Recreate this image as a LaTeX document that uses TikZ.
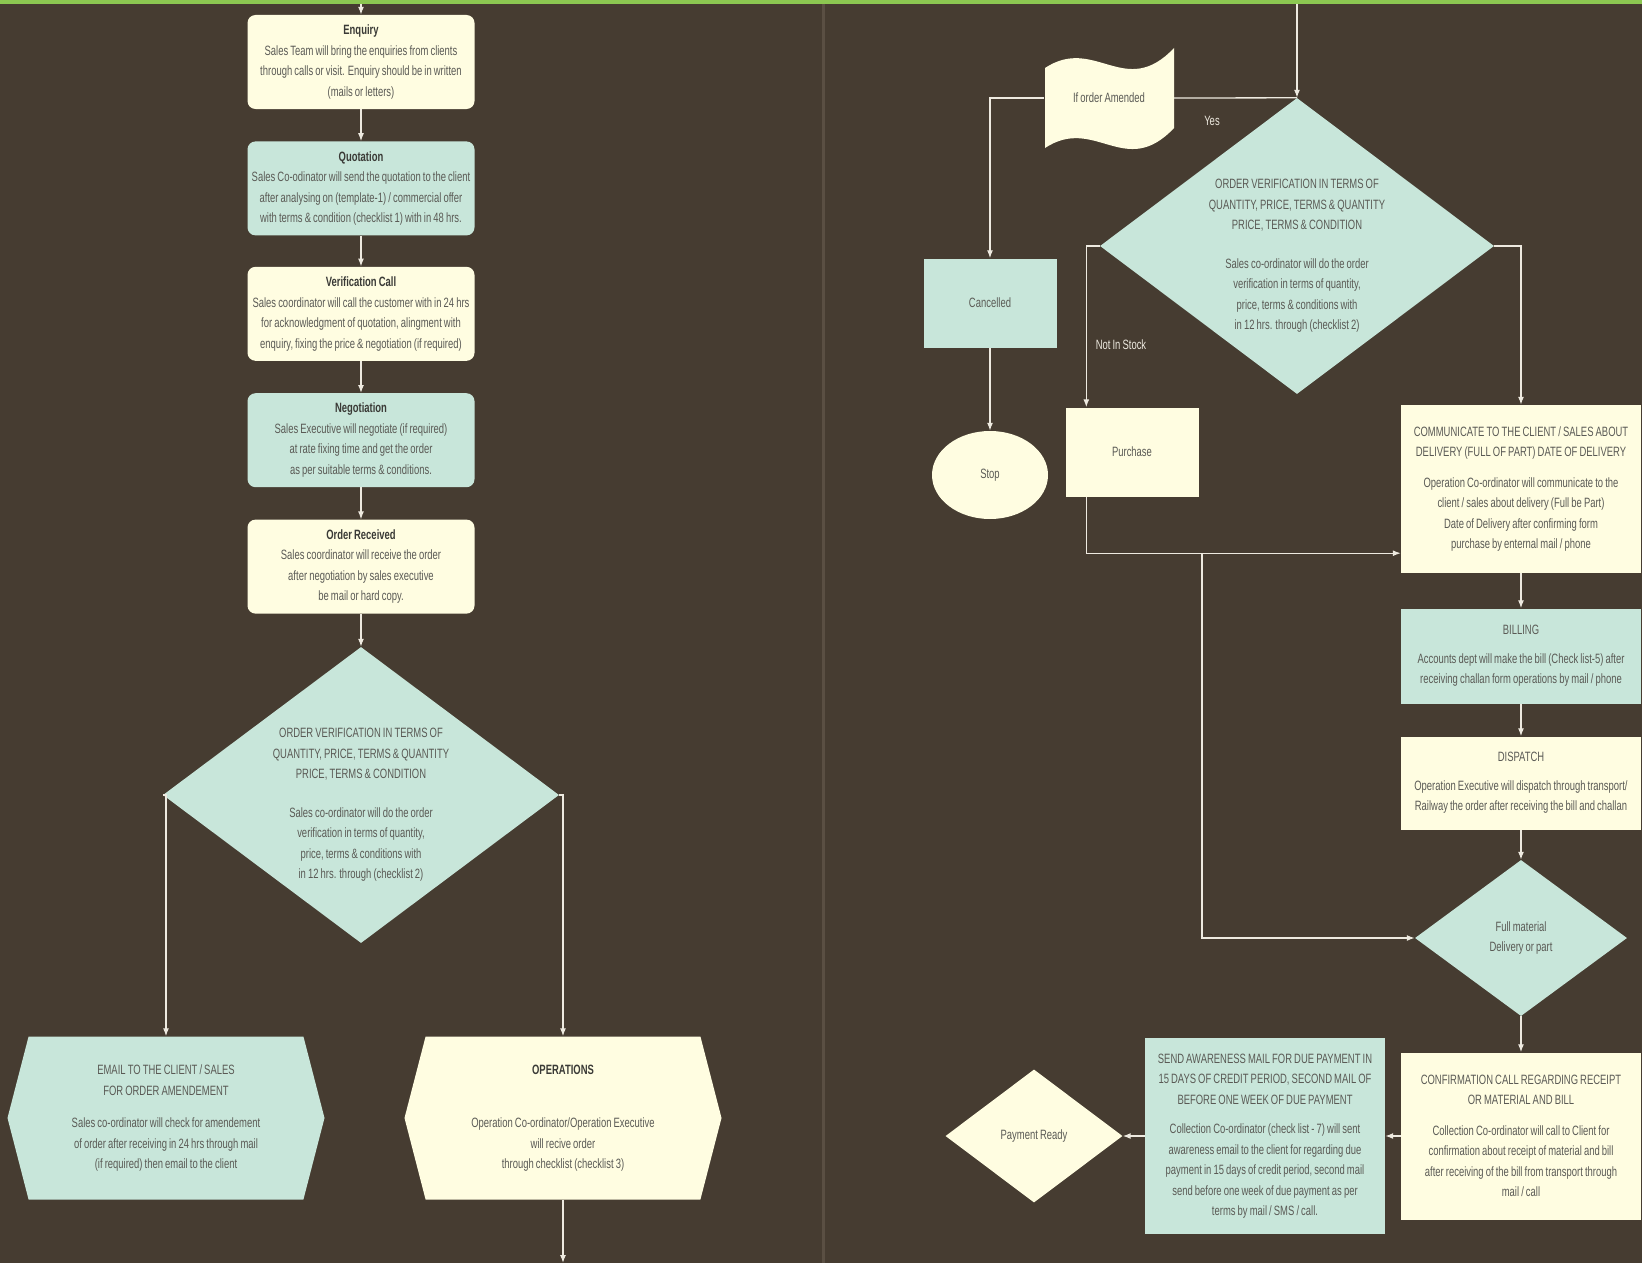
\documentclass[tikz,border=0pt]{standalone}
\usepackage{fontspec}
\setmainfont{Liberation Sans}[FakeStretch=0.70,WordSpace=0.8]
\usetikzlibrary{positioning,shapes.geometric,shapes.symbols,arrows.meta}
\definecolor{bgbrown}{HTML}{463C31}
\definecolor{bargreen}{HTML}{8CC751}
\definecolor{divline}{HTML}{5A4F43}
\definecolor{cream}{HTML}{FFFDE1}
\definecolor{mint}{HTML}{C8E6DA}
\definecolor{linecol}{HTML}{EEEAE0}
\definecolor{txtgray}{HTML}{5A5A55}
\definecolor{ttlgray}{HTML}{3A3A36}
\newcommand{\bodyfont}{\fontsize{13.5}{20.5}\selectfont}
\newcommand{\ttl}[1]{\textbf{\color{ttlgray}#1}}
\newcommand{\vertext}{ORDER VERIFICATION IN TERMS OF\\QUANTITY, PRICE, TERMS \& QUANTITY\\PRICE, TERMS \& CONDITION\\[18pt]Sales co-ordinator will do the order\\verification in terms of quantity,\\price, terms \& conditions with\\in 12 hrs. through (checklist 2)}
\begin{document}
\begin{tikzpicture}[x=1pt,y=-1pt,>={Latex[length=8pt,width=6pt]},
    txt/.style={align=center,text=txtgray,font=\bodyfont},
    box/.style={txt,rounded corners=8pt,minimum width=227pt,minimum height=94pt,inner sep=1pt},
    rbox/.style={txt,minimum width=240pt,inner sep=2pt},
    sbox/.style={txt,minimum width=133pt,minimum height=89pt},
    dec/.style={diamond,fill=mint,inner sep=0pt},
    hexa/.style={txt,signal,signal to=west and east,signal pointer angle=151,minimum width=317pt,minimum height=163pt,inner sep=0pt},
    lbl/.style={text=linecol,font=\bodyfont},
    conn/.style={draw=linecol,line width=1.3pt}]
    \useasboundingbox (0,0) rectangle (1642,1263);
    \fill[bgbrown] (0,0) rectangle (1642,1263);
    \fill[bargreen] (0,0) rectangle (1642,4);
    \fill[divline] (822,4) rectangle (825,1263);

    \coordinate (in1) at (361,4);
    \node[box,fill=cream] (enq) at (361,62) {\ttl{Enquiry}\\Sales Team will bring the enquiries from clients\\through calls or visit. Enquiry should be in written\\(mails or letters)};
    \node[box,fill=mint,below=32pt] (quot) at (enq.south) {\ttl{Quotation}\\Sales Co-odinator will send the quotation to the client\\after analysing on (template-1) / commercial offer\\with terms \& condition (checklist 1) with in 48 hrs.};
    \node[box,fill=cream,below=31pt] (vcall) at (quot.south) {\ttl{Verification Call}\\Sales coordinator will call the customer with in 24 hrs\\for acknowledgment of quotation, alingment with\\enquiry, fixing the price \& negotiation (if required)};
    \node[box,fill=mint,below=32pt] (nego) at (vcall.south) {\ttl{Negotiation}\\Sales Executive will negotiate (if required)\\at rate fixing time and get the order\\as per suitable terms \& conditions.};
    \node[box,fill=cream,below=32pt] (ordrec) at (nego.south) {\ttl{Order Received}\\Sales coordinator will receive the order\\after negotiation by sales executive\\be mail or hard copy.};
    \node[dec,minimum width=396pt,minimum height=296pt,below=33pt] (ver1) at (ordrec.south) {};
    \node[txt] (ver1txt) at ([yshift=-10pt]ver1.center) {\vertext};
    \node[hexa,fill=mint] (email) at (166,1118) {EMAIL TO THE CLIENT / SALES\\FOR ORDER AMENDEMENT\\[12pt]Sales co-ordinator will check for amendement\\of order after receiving in 24 hrs through mail\\(if required) then email to the client};
    \node[hexa,fill=cream] (ops) at (563,1118) {\ttl{OPERATIONS}\\[33pt]Operation Co-ordinator/Operation Executive\\will recive order\\through checklist (checklist 3)};
    \coordinate (out1) at (563,1263);

    \draw[conn,->] (in1) -- (enq);
    \draw[conn,->] (enq) -- (quot);
    \draw[conn,->] (quot) -- (vcall);
    \draw[conn,->] (vcall) -- (nego);
    \draw[conn,->] (nego) -- (ordrec);
    \draw[conn,->] (ordrec) -- (ver1);
    \draw[conn,->] (ver1.west) -| (email.north);
    \draw[conn,->] (ver1.east) -| (ops.north);
    \draw[conn,->] (ops) -- (out1);

    \coordinate (in2) at (1297,4);
    \node[dec,minimum width=394pt,minimum height=296pt] (ver2) at (1297,246) {};
    \node[txt] (ver2txt) at ([yshift=-10pt]ver2.center) {\vertext};
    \fill[cream] (1045,68) .. controls (1095,35) and (1125,100) .. (1174,48) -- (1174,128) .. controls (1125,180) and (1095,115) .. (1045,148) -- cycle;
    \node[txt,minimum width=130pt] (flag) at (1109,98) {If order Amended};
    \node[sbox,fill=mint] (cancel) at (990,303) {Cancelled};
    \node[txt,ellipse,fill=cream,minimum width=116pt,minimum height=88pt] (stop) at (990,475) {Stop};
    \node[sbox,fill=cream] (purch) at (1132,452) {Purchase};
    \node[lbl] (yes) at (1212,121) {Yes};
    \node[lbl] (nostock) at (1121,345) {Not In Stock};
    \node[rbox,fill=cream,minimum height=168pt] (comm) at (1521,489) {COMMUNICATE TO THE CLIENT / SALES ABOUT\\DELIVERY (FULL OF PART) DATE OF DELIVERY\\[10pt]Operation Co-ordinator will communicate to the\\client / sales about delivery (Full be Part)\\Date of Delivery after confirming form\\purchase by enternal mail / phone};
    \node[rbox,fill=mint,minimum height=95pt] (bill) at (1521,656) {BILLING\\[8pt]Accounts dept will make the bill (Check list-5) after\\receiving challan form operations by mail / phone};
    \node[rbox,fill=cream,minimum height=93pt] (disp) at (1521,783) {DISPATCH\\[8pt]Operation Executive will dispatch through transport/\\Railway the order after receiving the bill and challan};
    \node[dec,txt,minimum width=212pt,minimum height=156pt] (full) at (1521,938) {Full material\\Delivery or part};
    \node[rbox,fill=cream,minimum height=167pt] (conf) at (1521,1136) {CONFIRMATION CALL REGARDING RECEIPT\\OR MATERIAL AND BILL\\[10pt]Collection Co-ordinator will call to Client for\\confirmation about receipt of material and bill\\after receiving of the bill from transport through\\mail / call};
    \node[rbox,fill=mint,minimum height=196pt] (send) at (1265,1136) {SEND AWARENESS MAIL FOR DUE PAYMENT IN\\15 DAYS OF CREDIT PERIOD, SECOND MAIL OF\\BEFORE ONE WEEK OF DUE PAYMENT\\[9pt]Collection Co-ordinator (check list - 7) will sent\\awareness email to the client for regarding due\\payment in 15 days of credit period, second mail\\send before one week of due payment as per\\terms by mail / SMS / call.};
    \node[dec,txt,fill=cream,minimum width=177pt,minimum height=133pt] (pay) at (1034,1136) {Payment Ready};
    \coordinate (split) at (1202,553);

    \draw[conn,->] (in2) -- (ver2.north);
    \draw[conn] (flag.east) -- (ver2.north);
    \draw[conn,->] (flag.west) -| (cancel.north);
    \draw[conn,->] (cancel) -- (stop);
    \draw[conn,->] (ver2.west) -| ([xshift=21pt]purch.north west);
    \draw[conn,->] (ver2.east) -| (comm.north);
    \draw[conn,->] ([xshift=21pt]purch.south west) |- ([yshift=20pt]comm.south west);
    \draw[conn,->] (split) |- (full.west);
    \draw[conn,->] (comm) -- (bill);
    \draw[conn,->] (bill) -- (disp);
    \draw[conn,->] (disp) -- (full);
    \draw[conn,->] (full) -- (conf);
    \draw[conn,->] (conf) -- (send);
    \draw[conn,->] (send) -- (pay);
\end{tikzpicture}
\end{document}
